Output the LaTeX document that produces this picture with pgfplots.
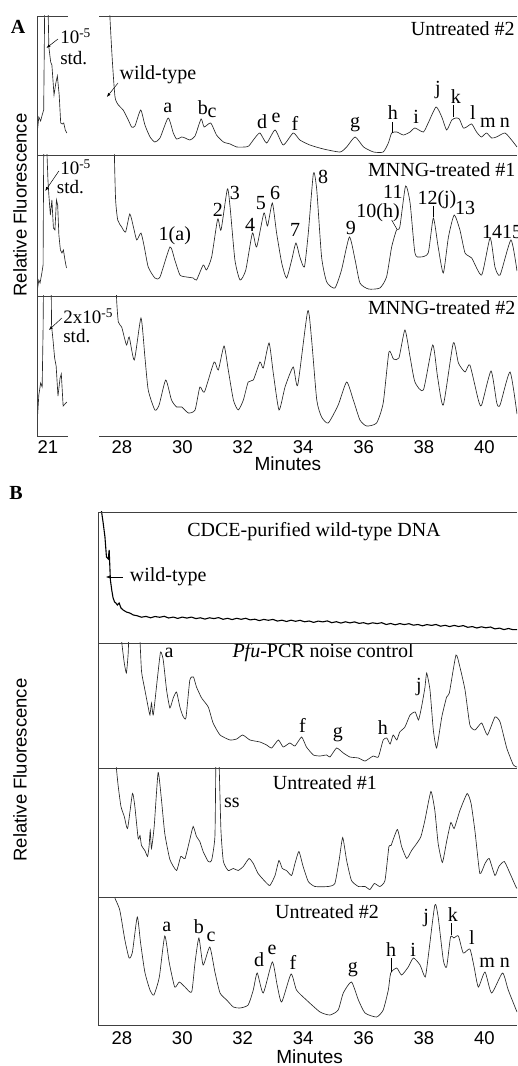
\documentclass[border=0pt]{standalone}
\usepackage{fontspec}
\setmainfont{Liberation Serif}
\setsansfont{Liberation Sans}
\usepackage{pgfplots}
\pgfplotsset{compat=1.18}
\usetikzlibrary{arrows.meta}
\newcommand\labfont{\fontsize{20}{22}\selectfont}
\newcommand\stdfont{\fontsize{19}{21}\selectfont}
\newcommand\tickfont{\sffamily\fontsize{18.5}{20}\selectfont}
\pgfplotsset{
  panel/.style={scale only axis, anchor=south west, ymin=0, xtick=\empty, ytick=\empty,
    axis line style={draw=none}, major tick length=0pt, clip mode=individual,
    /pgf/number format/assume math mode=true,
    xticklabel style={font=\tickfont, inner sep=0pt, anchor=north},
    xlabel style={font=\sffamily\fontsize{19}{21}\selectfont, anchor=center, inner sep=0pt}},
  mainA/.style={panel, width=418pt, xmin=27.24, xmax=41.08},
  mainB/.style={panel, width=419pt, xmin=27.21, xmax=41.08},
  smallA/.style={panel, width=31pt, xmin=20.64, xmax=21.66},
  trace/.style={black!85, line width=0.65pt, no marks},
}
\tikzset{
  lab/.style={font=\labfont, inner sep=0pt},
  std/.style={font=\stdfont, inner sep=0pt, anchor=west},
  arr/.style={black, line width=0.5pt, -{Latex[length=4pt,width=3pt]}},
}
\begin{document}
\begin{tikzpicture}
\useasboundingbox (0pt,0pt) rectangle (517pt,1066pt);

% ---------------- panel A, small 21 min windows
\begin{axis}[smallA, at={(37pt,911pt)}, height=139pt, ymax=139]
\addplot[trace] coordinates {(20.646,22)(20.70,38)(20.76,34)(20.81,40)(20.86,45)(20.89,139)(20.93,230)(20.97,230)(21.01,139)(21.03,108)(21.09,93)(21.13,90)(21.20,60)(21.26,72)(21.31,79)(21.37,60)(21.42,32)(21.47,31)(21.52,32)(21.57,25)(21.62,22)};
\node[std] at (axis cs:21.40,119) {10\textsuperscript{-5}};
\node[std] at (axis cs:21.40,97) {std.};
\draw[arr] (axis cs:21.33,116) -- (axis cs:20.95,107);
\end{axis}

\begin{axis}[smallA, at={(37pt,770pt)}, height=141pt, ymax=141]
\addplot[trace] coordinates {(20.646,5)(20.70,16)(20.74,13)(20.80,23)(20.84,31)(20.86,141)(20.91,220)(20.97,141)(21.0,116)(21.03,101)(21.08,81)(21.13,96)(21.18,68)(21.23,66)(21.28,96)(21.32,91)(21.36,61)(21.41,46)(21.46,43)(21.51,46)(21.56,36)(21.61,28)};
\node[std] at (axis cs:21.40,129) {10\textsuperscript{-5}};
\node[std] at (axis cs:21.29,109) {std.};
\draw[arr] (axis cs:21.36,125) -- (axis cs:20.91,105);
\end{axis}

\begin{axis}[smallA, at={(37pt,630pt)}, height=140pt, ymax=140, xtick={21}, xticklabel style={yshift=-4pt}]
\addplot[trace] coordinates {(20.646,14)(20.70,41)(20.76,53)(20.81,49)(20.84,106)(20.85,140)(20.96,200)(21.11,140)(21.12,110)(21.17,95)(21.22,78)(21.27,70)(21.33,40)(21.40,58)(21.44,62)(21.50,30)(21.56,32)(21.62,34)};
\node[std] at (axis cs:21.50,120) {2x10\textsuperscript{-5}};
\node[std] at (axis cs:21.50,100) {std.};
\draw[arr] (axis cs:21.46,118) -- (axis cs:21.03,106);
\end{axis}

% ---------------- panel A, main windows
\begin{axis}[mainA, at={(99pt,911pt)}, height=139pt, ymax=139]
\addplot[trace, smooth, tension=0.35] coordinates {(27.55,180)(27.60,139)(27.68,95)(27.77,58)(27.88,50)(28.04,45)(28.21,35)(28.32,28)(28.43,29)(28.62,45)(28.76,30)(28.93,18)(29.09,13)(29.26,17)(29.53,37)(29.70,22)(29.81,16)(29.98,18)(30.09,17)(30.25,15)(30.42,19)(30.62,36)(30.72,28)(30.94,32)(31.13,20)(31.36,13)(31.58,11)(31.80,8)(32.07,8)(32.20,9)(32.40,17)(32.57,22)(32.79,12)(33.07,25)(33.34,10)(33.67,22)(33.89,15)(34.22,10)(34.67,6)(35.22,3)(35.44,8)(35.72,18)(36.00,8)(36.33,3)(36.65,3)(36.82,12)(36.93,22)(37.10,23)(37.32,20)(37.54,23)(37.70,27)(37.98,23)(38.14,32)(38.40,48)(38.59,38)(38.75,25)(38.92,35)(39.06,37)(39.17,36)(39.30,27)(39.41,28)(39.58,31)(39.74,23)(39.90,18)(40.07,22)(40.24,17)(40.40,18)(40.68,22)(40.90,15)(41.08,8)};
\node[lab, anchor=east] at (axis cs:41.01,126) {Untreated \#2};
\node[lab] at (axis cs:29.19,80) {wild-type};
\draw[arr] (axis cs:27.87,72) -- (axis cs:27.50,58);
\node[lab] at (axis cs:29.52,47) {a};
\node[lab] at (axis cs:30.68,47) {b};
\node[lab] at (axis cs:30.98,42) {c};
\node[lab] at (axis cs:32.64,33) {d};
\node[lab] at (axis cs:33.10,37) {e};
\node[lab] at (axis cs:33.73,32) {f};
\node[lab] at (axis cs:35.72,30) {g};
\node[lab] at (axis cs:36.97,42) {h};
\draw[black, line width=0.5pt] (axis cs:36.94,33) -- (axis cs:36.94,22);
\node[lab] at (axis cs:37.74,38) {i};
\node[lab] at (axis cs:38.46,65) {j};
\node[lab] at (axis cs:39.06,58) {k};
\draw[black, line width=0.5pt] (axis cs:38.96,50) -- (axis cs:38.96,38);
\node[lab] at (axis cs:39.62,42) {l};
\node[lab] at (axis cs:40.12,32) {m};
\node[lab] at (axis cs:40.68,32) {n};
\end{axis}

\begin{axis}[mainA, at={(99pt,770pt)}, height=141pt, ymax=141]
\addplot[trace, smooth, tension=0.35] coordinates {(27.74,180)(27.75,141)(27.79,96)(27.86,76)(27.99,69)(28.12,64)(28.26,82)(28.38,69)(28.49,56)(28.63,63)(28.74,49)(28.87,29)(29.09,18)(29.26,19)(29.59,49)(29.75,36)(29.92,21)(30.14,19)(30.36,18)(30.47,16)(30.69,31)(30.80,26)(30.97,39)(31.17,77)(31.28,66)(31.49,107)(31.58,89)(31.74,36)(31.91,16)(32.10,26)(32.32,63)(32.46,49)(32.70,83)(32.82,70)(32.98,93)(33.12,63)(33.29,33)(33.45,18)(33.62,36)(33.76,53)(33.89,39)(34.04,29)(34.17,63)(34.34,123)(34.45,106)(34.61,39)(34.78,14)(35.05,8)(35.27,26)(35.53,59)(35.72,36)(35.88,13)(36.16,7)(36.54,8)(36.76,19)(36.93,49)(37.09,66)(37.20,69)(37.39,110)(37.54,93)(37.70,43)(37.87,39)(38.14,43)(38.31,78)(38.47,49)(38.64,23)(38.81,59)(39.00,81)(39.19,66)(39.36,43)(39.58,38)(39.91,21)(40.19,58)(40.35,29)(40.52,21)(40.88,56)(41.08,25)};
\node[lab, anchor=east] at (axis cs:41.03,126) {MNNG-treated \#1};
\node[lab] at (axis cs:29.75,60) {1(a)};
\node[lab] at (axis cs:31.18,86) {2};
\node[lab] at (axis cs:31.74,103) {3};
\node[lab] at (axis cs:32.24,71) {4};
\node[lab] at (axis cs:32.60,93) {5};
\node[lab] at (axis cs:33.07,103) {6};
\node[lab] at (axis cs:33.73,66) {7};
\node[lab] at (axis cs:34.66,119) {8};
\node[lab] at (axis cs:35.58,68) {9};
\node[lab] at (axis cs:36.48,83) {10(h)};
\draw[black, line width=0.5pt] (axis cs:36.93,76) -- (axis cs:37.10,67);
\node[lab] at (axis cs:36.97,104) {11};
\node[lab] at (axis cs:38.43,96) {12(j)};
\draw[black, line width=0.5pt] (axis cs:38.30,90) -- (axis cs:38.30,79);
\node[lab] at (axis cs:39.36,88) {13};
\node[lab, anchor=west] at (axis cs:39.92,64) {1415};
\end{axis}

\begin{axis}[mainA, at={(99pt,630pt)}, height=140pt, ymax=140,
  xtick={28,30,...,40}, xticklabel style={yshift=-4pt},
  xlabel={Minutes}, xlabel style={at={(axis description cs:0.452,0)}, yshift=-27.5pt}]
\addplot[trace, smooth, tension=0.35] coordinates {(27.81,180)(27.82,139)(27.88,114)(27.99,109)(28.15,91)(28.24,99)(28.41,76)(28.63,118)(28.76,79)(28.87,46)(29.09,26)(29.23,31)(29.45,56)(29.64,36)(29.81,29)(29.98,29)(30.20,23)(30.42,26)(30.58,49)(30.73,44)(31.05,74)(31.19,66)(31.38,90)(31.52,66)(31.69,36)(31.85,26)(32.02,36)(32.18,54)(32.35,56)(32.57,74)(32.68,68)(32.87,93)(33.01,63)(33.20,26)(33.40,49)(33.67,69)(33.82,51)(34.15,125)(34.28,96)(34.45,36)(34.61,19)(34.83,13)(35.16,31)(35.44,54)(35.66,36)(35.88,16)(36.10,10)(36.43,13)(36.65,33)(36.84,84)(36.99,77)(37.17,78)(37.37,106)(37.54,79)(37.70,54)(37.98,46)(38.29,91)(38.45,59)(38.64,31)(38.97,93)(39.14,73)(39.36,64)(39.52,71)(39.80,36)(39.91,31)(40.22,65)(40.41,33)(40.52,31)(40.85,64)(41.08,22)};
\node[lab, anchor=east] at (axis cs:41.03,128) {MNNG-treated \#2};
\end{axis}

% ---------------- panel B
\begin{axis}[mainB, at={(98pt,423pt)}, height=131pt, ymax=131]
\addplot[black, line width=1.1pt, no marks] coordinates {(27.28,140)(27.33,131)(27.39,118)(27.44,106)(27.49,86)(27.55,84)(27.58,93)(27.62,63)(27.67,52)(27.71,45)(27.76,41)(27.80,40)(27.85,38)(27.91,40)(27.97,35)(28.04,33)(28.15,31)(28.26,30)(28.38,28)(28.50,27.3)(28.65,25.8)(28.80,26.6)(28.95,25.2)(29.10,26.5)(29.25,25.7)(29.40,26.7)(29.55,25.0)(29.70,25.9)(29.85,24.6)(30.00,25.9)(30.15,24.9)(30.30,25.9)(30.45,24.4)(30.60,25.2)(30.75,23.9)(30.90,25.2)(31.05,24.4)(31.20,25.4)(31.35,23.7)(31.50,24.7)(31.65,23.4)(31.80,24.7)(31.95,23.7)(32.10,24.7)(32.25,23.1)(32.40,23.8)(32.55,22.4)(32.70,23.6)(32.85,22.7)(33.00,23.6)(33.15,21.9)(33.30,22.8)(33.45,21.5)(33.60,22.8)(33.75,21.7)(33.90,22.7)(34.05,21.2)(34.20,22.0)(34.35,20.6)(34.50,21.9)(34.65,21.1)(34.80,22.1)(34.95,20.3)(35.10,21.3)(35.25,19.9)(35.40,21.2)(35.55,20.1)(35.70,21.1)(35.85,19.6)(36.00,20.3)(36.15,19.0)(36.30,20.2)(36.45,19.4)(36.60,20.3)(36.75,18.5)(36.90,19.5)(37.05,18.2)(37.20,19.4)(37.35,18.4)(37.50,19.3)(37.65,17.8)(37.80,18.5)(37.95,17.2)(38.10,18.4)(38.25,17.6)(38.40,18.5)(38.55,16.8)(38.70,17.7)(38.85,16.4)(39.00,17.6)(39.15,16.5)(39.30,17.4)(39.45,15.7)(39.60,16.4)(39.75,15.0)(39.90,16.2)(40.05,15.2)(40.20,16.0)(40.35,14.1)(40.50,14.9)(40.65,13.4)(40.80,14.5)(40.95,13.3)(41.08,13.3)};
\node[lab] at (axis cs:34.36,111) {CDCE-purified wild-type DNA};
\node[lab, anchor=west] at (axis cs:28.26,66) {wild-type};
\draw[arr] (axis cs:28.03,66) -- (axis cs:27.47,66);
\end{axis}

\begin{axis}[mainB, at={(98pt,298pt)}, height=125pt, ymax=125]
\addplot[trace, smooth, tension=0.3] coordinates {(27.95,160)(27.99,128)(28.08,105)(28.15,95)(28.21,115)(28.26,150)(28.50,170)(28.58,140)(28.65,97)(28.75,80)(28.87,61)(28.93,53)(28.98,65)(29.04,53)(29.17,88)(29.28,116)(29.37,108)(29.48,78)(29.59,60)(29.70,70)(29.81,76)(29.92,61)(30.02,52)(30.12,50)(30.25,88)(30.37,91)(30.47,81)(30.64,70)(30.86,61)(31.02,45)(31.25,33)(31.58,28)(31.80,29)(32.00,33)(32.24,28)(32.57,26)(32.79,23)(32.96,20)(33.18,28)(33.34,21)(33.56,25)(33.73,22)(33.95,31)(34.11,21)(34.34,13)(34.56,12)(34.78,13)(34.89,11)(35.11,20)(35.33,15)(35.55,11)(35.83,10)(36.05,7)(36.32,12)(36.49,11)(36.65,28)(36.77,30)(36.88,24)(36.98,33)(37.10,28)(37.20,36)(37.37,41)(37.54,53)(37.71,56)(37.82,48)(37.92,61)(38.03,80)(38.09,95)(38.20,78)(38.31,38)(38.42,20)(38.59,51)(38.75,71)(38.84,75)(39.06,113)(39.19,101)(39.36,78)(39.52,43)(39.69,38)(39.91,45)(40.10,33)(40.35,51)(40.52,46)(40.74,20)(40.96,3)(41.08,1)};
\node[lab] at (axis cs:34.66,115) {\textit{Pfu}-PCR noise control};
\node[lab] at (axis cs:29.56,115) {a};
\node[lab] at (axis cs:33.98,43) {f};
\node[lab] at (axis cs:35.15,33) {g};
\node[lab] at (axis cs:36.64,40) {h};
\node[lab] at (axis cs:37.83,81) {j};
\end{axis}

\begin{axis}[mainB, at={(98pt,168.5pt)}, height=129.5pt, ymax=129.5]
\addplot[trace, smooth, tension=0.3] coordinates {(27.80,140)(27.82,129)(27.88,111)(27.97,91)(28.08,81)(28.19,69)(28.35,104)(28.43,91)(28.54,59)(28.60,62)(28.65,52)(28.76,47)(28.85,41)(28.90,51)(28.94,67)(28.98,49)(29.07,71)(29.20,125)(29.31,98)(29.42,64)(29.59,38)(29.81,27)(29.95,41)(30.09,39)(30.25,58)(30.36,71)(30.47,61)(30.58,56)(30.69,46)(30.86,36)(30.97,37)(31.08,61)(31.11,135)(31.13,200)(31.19,200)(31.22,135)(31.28,67)(31.36,36)(31.52,27)(31.69,29)(31.85,27)(32.02,31)(32.21,39)(32.35,34)(32.51,24)(32.74,16)(32.90,12)(33.07,22)(33.20,37)(33.31,29)(33.45,27)(33.62,22)(33.73,34)(33.86,46)(34.00,31)(34.17,16)(34.39,11)(34.83,11)(35.05,14)(35.19,37)(35.31,60)(35.44,37)(35.60,17)(35.83,11)(36.05,11)(36.21,8)(36.36,14)(36.54,11)(36.71,17)(36.84,51)(36.91,52)(37.12,68)(37.26,51)(37.43,39)(37.59,47)(37.76,54)(37.90,61)(38.03,77)(38.23,106)(38.36,87)(38.47,54)(38.61,35)(38.75,56)(38.89,75)(39.00,69)(39.19,87)(39.43,104)(39.56,94)(39.69,66)(39.85,24)(40.02,34)(40.16,39)(40.35,22)(40.48,31)(40.66,36)(40.85,24)(41.04,11)(41.08,9)};
\node[lab] at (axis cs:34.72,114.5) {Untreated \#1};
\node[lab] at (axis cs:31.64,94.5) {ss};
\end{axis}

\begin{axis}[mainB, at={(98pt,41pt)}, height=127pt, ymax=127,
  xtick={28,30,...,40}, xticklabel style={yshift=-6.5pt},
  xlabel={Minutes}, xlabel style={at={(axis description cs:0.505,0)}, yshift=-31.5pt}]
\addplot[trace, smooth, tension=0.35] coordinates {(27.74,135)(27.77,127)(27.93,115)(28.10,85)(28.24,67)(28.35,73)(28.51,108)(28.62,82)(28.76,53)(28.93,35)(29.06,30)(29.24,48)(29.42,89)(29.57,62)(29.75,38)(29.90,43)(30.09,38)(30.31,33)(30.42,62)(30.55,87)(30.69,60)(30.91,78)(31.08,53)(31.25,32)(31.47,25)(31.69,18)(31.91,17)(32.18,20)(32.35,35)(32.48,52)(32.68,32)(32.98,63)(33.14,40)(33.29,23)(33.60,51)(33.78,35)(34.11,25)(34.56,13)(34.89,10)(35.16,15)(35.33,32)(35.60,43)(35.83,25)(36.05,12)(36.43,8)(36.65,15)(36.82,35)(36.90,52)(37.10,57)(37.26,50)(37.48,58)(37.65,67)(37.87,60)(38.04,48)(38.14,68)(38.36,120)(38.47,108)(38.64,65)(38.75,58)(38.88,88)(38.99,87)(39.14,89)(39.30,72)(39.52,76)(39.66,58)(39.80,38)(40.02,53)(40.24,32)(40.60,52)(40.79,35)(41.08,13)};
\node[lab] at (axis cs:34.79,113) {Untreated \#2};
\node[lab] at (axis cs:29.49,98) {a};
\node[lab] at (axis cs:30.55,98) {b};
\node[lab] at (axis cs:30.95,88) {c};
\node[lab] at (axis cs:32.54,65) {d};
\node[lab] at (axis cs:32.97,75) {e};
\node[lab] at (axis cs:33.66,63) {f};
\node[lab] at (axis cs:35.65,55) {g};
\node[lab] at (axis cs:36.91,75) {h};
\draw[black, line width=0.5pt] (axis cs:36.91,67) -- (axis cs:36.91,53);
\node[lab] at (axis cs:37.64,75) {i};
\node[lab] at (axis cs:38.07,107) {j};
\node[lab] at (axis cs:38.96,110) {k};
\draw[black, line width=0.5pt] (axis cs:38.89,102) -- (axis cs:38.89,90);
\node[lab] at (axis cs:39.59,87) {l};
\node[lab] at (axis cs:40.09,62) {m};
\node[lab] at (axis cs:40.68,62) {n};
\end{axis}

% ---------------- frames, axis titles, panel letters
\begin{scope}[black!75, line width=0.8pt]
\draw (37pt,1050pt) -- (68pt,1050pt);
\draw (99pt,1050pt) -- (517pt,1050pt);
\draw (37pt,911pt) -- (517pt,911pt);
\draw (37pt,770pt) -- (517pt,770pt);
\draw (37pt,630pt) -- (68pt,630pt);
\draw (99pt,630pt) -- (517pt,630pt);
\draw (37pt,630pt) -- (37pt,1050pt);
\draw (98pt,41pt) -- (98pt,554pt) -- (517pt,554pt);
\draw (98pt,423pt) -- (517pt,423pt);
\draw (98pt,298pt) -- (517pt,298pt);
\draw (98pt,168.5pt) -- (517pt,168.5pt);
\draw (98pt,41pt) -- (517pt,41pt);
\end{scope}
\node[rotate=90, font=\sffamily\fontsize{18.5}{20}\selectfont] at (20pt,861pt) {Relative Fluorescence};
\node[rotate=90, font=\sffamily\fontsize{18.5}{20}\selectfont] at (20pt,296pt) {Relative Fluorescence};
\node[font=\bfseries\fontsize{20}{22}\selectfont] at (18pt,1039pt) {A};
\node[font=\bfseries\fontsize{20}{22}\selectfont] at (16pt,573pt) {B};
\end{tikzpicture}
\end{document}
